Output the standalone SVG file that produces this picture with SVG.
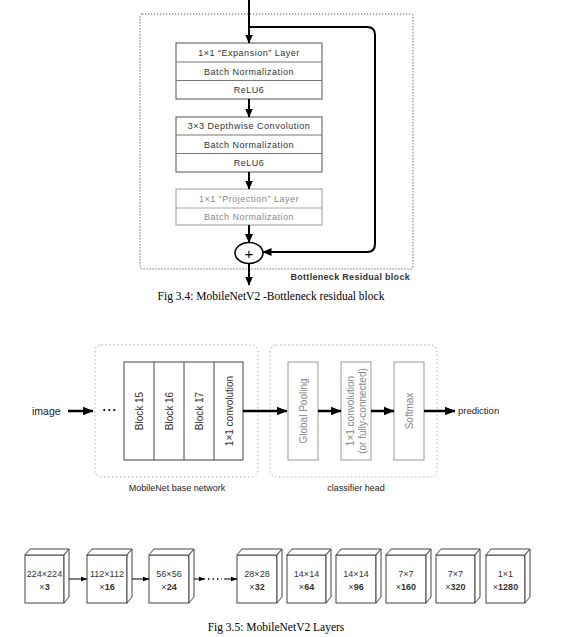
<svg xmlns="http://www.w3.org/2000/svg" width="579" height="637" viewBox="0 0 579 637">
<style>
text{font-family:"Liberation Sans",Arial,sans-serif}
.cap{font-family:"Liberation Serif","Times New Roman",serif;font-size:11.5px;fill:#000}
.lay{font-size:9px;letter-spacing:0.5px;fill:#333;text-anchor:middle;dominant-baseline:central}
.lay3{font-size:9px;letter-spacing:0.5px;fill:#888;text-anchor:middle;dominant-baseline:central}
.box{fill:#fff;stroke:#555;stroke-width:1}
.box3{fill:#fff;stroke:#999;stroke-width:1}
.dv{stroke:#777;stroke-width:1}
.dv3{stroke:#aaa;stroke-width:1}
.dot{fill:none;stroke:#555;stroke-width:1;stroke-dasharray:1.2 1.8}
.dotl{fill:none;stroke:#aaa;stroke-width:1;stroke-dasharray:1.5 2.5}
.thick{fill:none;stroke:#000;stroke-width:2}
.mid{fill:none;stroke:#000;stroke-width:2.5}
.thin{fill:none;stroke:#000;stroke-width:1}
.blk{fill:#fff;stroke:#444;stroke-width:1}
.cls{fill:#fff;stroke:#999;stroke-width:1}
.vt{font-size:10px;fill:#333;text-anchor:middle;dominant-baseline:central}
.vtg{font-size:10px;fill:#888;text-anchor:middle;dominant-baseline:central}
.lbl{font-size:9px;fill:#222;text-anchor:middle}
.cube{fill:#fff;stroke:#444;stroke-width:1}
.ct{font-size:9px;fill:#333;text-anchor:middle}
</style>
<defs>
<marker id="ah" markerWidth="9" markerHeight="9" refX="8.5" refY="4.5" orient="auto" markerUnits="userSpaceOnUse"><path d="M0,0.5 L9,4.5 L0,8.5 z" fill="#000"/></marker>
<marker id="ahm" markerWidth="11" markerHeight="11" refX="10.5" refY="5.5" orient="auto" markerUnits="userSpaceOnUse"><path d="M0,1 L11,5.5 L0,10 z" fill="#000"/></marker>
<marker id="ahs" markerWidth="7" markerHeight="7" refX="6.5" refY="3.5" orient="auto" markerUnits="userSpaceOnUse"><path d="M0,1 L7,3.5 L0,6 z" fill="#000"/></marker>
</defs>

<!-- Fig 3.4 -->
<rect class="dot" x="140" y="14" width="273" height="255" rx="2"/>
<text x="410" y="280" font-size="9" font-weight="bold" fill="#333" text-anchor="end" letter-spacing="0.3">Bottleneck Residual block</text>

<g id="expansion">
<rect class="box" x="176" y="43" width="146" height="56"/>
<line class="dv" x1="176" y1="62" x2="322" y2="62"/>
<line class="dv" x1="176" y1="80.5" x2="322" y2="80.5"/>
<text class="lay" x="249" y="52.5">1×1 “Expansion” Layer</text>
<text class="lay" x="249" y="71.5">Batch Normalization</text>
<text class="lay" x="249" y="90">ReLU6</text>
</g>
<g id="depthwise">
<rect class="box" x="176" y="117" width="146" height="55"/>
<line class="dv" x1="176" y1="135" x2="322" y2="135"/>
<line class="dv" x1="176" y1="153.5" x2="322" y2="153.5"/>
<text class="lay" x="249" y="126">3×3 Depthwise Convolution</text>
<text class="lay" x="249" y="144.5">Batch Normalization</text>
<text class="lay" x="249" y="163">ReLU6</text>
</g>
<g id="projection">
<rect class="box3" x="176" y="189" width="146" height="36"/>
<line class="dv3" x1="176" y1="208" x2="322" y2="208"/>
<text class="lay3" x="249" y="198.5">1×1 “Projection” Layer</text>
<text class="lay3" x="249" y="216.5">Batch Normalization</text>
</g>
<g id="add">
<ellipse cx="249" cy="253" rx="14" ry="10.5" fill="#fff" stroke="#000" stroke-width="1.5"/>
<text x="249" y="253.5" font-size="15" fill="#000" text-anchor="middle" dominant-baseline="central">+</text>
</g>
<g id="connectors-top">
<line class="thick" x1="249" y1="0" x2="249" y2="43" marker-end="url(#ah)"/>
<path class="thick" d="M249,27 H367 Q375,27 375,35 V244 Q375,252 367,252 H263" marker-end="url(#ah)"/>
<line class="thick" x1="249" y1="99" x2="249" y2="117" marker-end="url(#ah)"/>
<line class="thick" x1="249" y1="172" x2="249" y2="189" marker-end="url(#ah)"/>
<line class="thick" x1="249" y1="225" x2="249" y2="242.5" marker-end="url(#ah)"/>
<line class="thick" x1="249" y1="263.5" x2="249" y2="285" marker-end="url(#ah)"/>
</g>
<text class="cap" x="271" y="300" text-anchor="middle">Fig 3.4: MobileNetV2 -Bottleneck residual block</text>

<!-- Fig 3.5 top -->
<rect class="dotl" x="95" y="345" width="163" height="132" rx="6"/>
<rect class="dotl" x="270" y="345" width="167" height="132" rx="6"/>
<text class="lbl" x="177" y="491">MobileNet base network</text>
<text class="lbl" x="356" y="491">classifier head</text>

<text x="32" y="415" font-size="10.5" fill="#222">image</text>
<text x="110" y="414" font-size="12" font-weight="bold" fill="#000" text-anchor="middle" letter-spacing="1">···</text>

<g id="base">
<rect class="blk" x="124" y="362" width="119" height="98"/>
<line x1="154" y1="362" x2="154" y2="460" stroke="#444"/>
<line x1="184" y1="362" x2="184" y2="460" stroke="#444"/>
<line x1="214" y1="362" x2="214" y2="460" stroke="#444"/>
<text class="vt" transform="translate(139,411) rotate(-90)">Block 15</text>
<text class="vt" transform="translate(169,411) rotate(-90)">Block 16</text>
<text class="vt" transform="translate(199,411) rotate(-90)">Block 17</text>
<text class="vt" transform="translate(229,411) rotate(-90)">1×1 convolution</text>
</g>
<g id="pool">
<rect class="cls" x="288" y="362" width="30" height="98"/>
<text class="vtg" transform="translate(303,411) rotate(-90)">Global Pooling</text>
</g>
<g id="fc">
<rect class="cls" x="341" y="362" width="30" height="98"/>
<text class="vtg" transform="translate(356,411) rotate(-90)"><tspan x="0" dy="-6">1×1 convolution</tspan><tspan x="0" dy="12">(or fully-connected)</tspan></text>
</g>
<g id="softmax">
<rect class="cls" x="394" y="362" width="30" height="98"/>
<text class="vtg" transform="translate(409,411) rotate(-90)">Softmax</text>
</g>
<text x="458" y="414" font-size="9.5" fill="#222">prediction</text>
<g id="connectors-mid">
<line class="mid" x1="68" y1="411" x2="93" y2="411" marker-end="url(#ahm)"/>
<line class="mid" x1="243" y1="411" x2="287" y2="411" marker-end="url(#ahm)"/>
<line class="mid" x1="318" y1="411" x2="341" y2="411" marker-end="url(#ahm)"/>
<line class="mid" x1="371" y1="411" x2="394" y2="411" marker-end="url(#ahm)"/>
<line class="mid" x1="424" y1="411" x2="455" y2="411" marker-end="url(#ahm)"/>
</g>

<!-- Fig 3.5 layers -->
<g id="c1"><rect class="cube" x="25" y="555" width="39" height="48"/><polygon class="cube" points="25,555 30,549 69,549 64,555"/><polygon class="cube" points="64,555 69,549 69,597 64,603"/><text class="ct" x="44.5" y="577">224×224</text><text class="ct" x="44.5" y="590">×<tspan font-weight="bold">3</tspan></text></g>
<g id="c2"><rect class="cube" x="87" y="555" width="40" height="48"/><polygon class="cube" points="87,555 92,549 132,549 127,555"/><polygon class="cube" points="127,555 132,549 132,597 127,603"/><text class="ct" x="107" y="577">112×112</text><text class="ct" x="107" y="590">×<tspan font-weight="bold">16</tspan></text></g>
<g id="c3"><rect class="cube" x="149" y="555" width="40" height="48"/><polygon class="cube" points="149,555 154,549 194,549 189,555"/><polygon class="cube" points="189,555 194,549 194,597 189,603"/><text class="ct" x="169" y="577">56×56</text><text class="ct" x="169" y="590">×<tspan font-weight="bold">24</tspan></text></g>
<g id="c4"><rect class="cube" x="237" y="555" width="40" height="48"/><polygon class="cube" points="237,555 242,549 282,549 277,555"/><polygon class="cube" points="277,555 282,549 282,597 277,603"/><text class="ct" x="257" y="577">28×28</text><text class="ct" x="257" y="590">×<tspan font-weight="bold">32</tspan></text></g>
<g id="c5"><rect class="cube" x="287" y="555" width="39" height="48"/><polygon class="cube" points="287,555 292,549 331,549 326,555"/><polygon class="cube" points="326,555 331,549 331,597 326,603"/><text class="ct" x="306.5" y="577">14×14</text><text class="ct" x="306.5" y="590">×<tspan font-weight="bold">64</tspan></text></g>
<g id="c6"><rect class="cube" x="336" y="555" width="40" height="48"/><polygon class="cube" points="336,555 341,549 381,549 376,555"/><polygon class="cube" points="376,555 381,549 381,597 376,603"/><text class="ct" x="356" y="577">14×14</text><text class="ct" x="356" y="590">×<tspan font-weight="bold">96</tspan></text></g>
<g id="c7"><rect class="cube" x="386" y="555" width="40" height="48"/><polygon class="cube" points="386,555 391,549 431,549 426,555"/><polygon class="cube" points="426,555 431,549 431,597 426,603"/><text class="ct" x="406" y="577">7×7</text><text class="ct" x="406" y="590">×<tspan font-weight="bold">160</tspan></text></g>
<g id="c8"><rect class="cube" x="436" y="555" width="39" height="48"/><polygon class="cube" points="436,555 441,549 480,549 475,555"/><polygon class="cube" points="475,555 480,549 480,597 475,603"/><text class="ct" x="455.5" y="577">7×7</text><text class="ct" x="455.5" y="590">×<tspan font-weight="bold">320</tspan></text></g>
<g id="c9"><rect class="cube" x="486" y="555" width="39" height="48"/><polygon class="cube" points="486,555 491,549 530,549 525,555"/><polygon class="cube" points="525,555 530,549 530,597 525,603"/><text class="ct" x="505.5" y="577">1×1</text><text class="ct" x="505.5" y="590">×<tspan font-weight="bold">1280</tspan></text></g>
<g id="connectors-bottom">
<line class="thin" x1="69" y1="579" x2="87" y2="579" marker-end="url(#ahs)"/>
<line class="thin" x1="132" y1="579" x2="149" y2="579" marker-end="url(#ahs)"/>
<line class="thin" x1="194" y1="579" x2="205" y2="579" marker-end="url(#ahs)"/>
<line x1="208" y1="579" x2="222" y2="579" stroke="#000" stroke-width="1.5" stroke-dasharray="1.5 3"/>
<line class="thin" x1="224" y1="579" x2="237" y2="579" marker-end="url(#ahs)"/>
</g>
<text class="cap" x="276" y="631" text-anchor="middle">Fig 3.5: MobileNetV2 Layers</text>
</svg>
